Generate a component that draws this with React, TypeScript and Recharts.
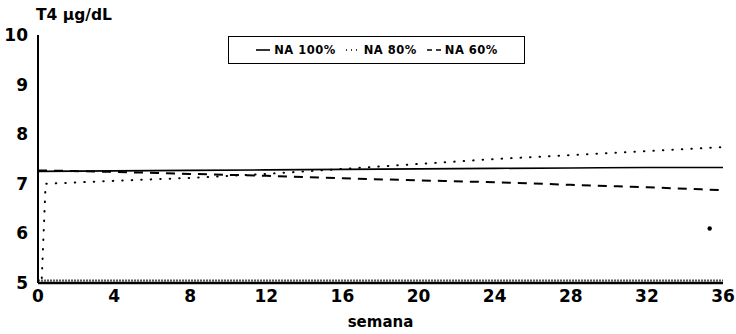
import React from "react";
import {
  ComposedChart,
  Line,
  Scatter,
  XAxis,
  YAxis,
  ReferenceLine,
} from "recharts";

// semanas (weeks)
const weeks = [0, 4, 8, 12, 16, 20, 24, 28, 32, 36];
const xTicks = [0, 4, 8, 12, 16, 20, 24, 28, 32, 36];
const yTicks = [5, 6, 7, 8, 9, 10];

// T4 values per group
const na100 = [7.25, 7.26, 7.27, 7.28, 7.29, 7.3, 7.31, 7.32, 7.33, 7.33];
const na80Weeks = [0.2, 0.4, 4, 8, 12, 16, 20, 24, 28, 32, 36];
const na80 = [5.1, 7.0, 7.06, 7.12, 7.2, 7.3, 7.4, 7.5, 7.58, 7.66, 7.74];
const na60 = [7.27, 7.24, 7.2, 7.16, 7.11, 7.07, 7.03, 6.98, 6.93, 6.87];
const strayWeeks = [35.3];
const strayValues = [6.1];

const FONT = "'DejaVu Sans', Arial, sans-serif";

const solidData = weeks.map((w, i) => ({ w, v: na100[i] }));
const dottedData = na80Weeks.map((w, i) => ({ w, v: na80[i] }));
const dashedData = weeks.map((w, i) => ({ w, v: na60[i] }));
const strayData = strayWeeks.map((w, i) => ({ w, v: strayValues[i] }));

const legendItems = [
  { name: "NA 100%", dash: undefined as string | undefined },
  { name: "NA 80%", dash: "1 4" },
  { name: "NA 60%", dash: "5 4" },
];

const LegendBox = () => (
  <div
    style={{
      position: "absolute",
      left: 228,
      top: 36,
      width: 297,
      height: 28,
      border: "1.5px solid #000",
      boxSizing: "border-box",
      display: "flex",
      alignItems: "center",
      justifyContent: "center",
      gap: 9,
      fontFamily: FONT,
      fontWeight: 700,
      fontSize: 11.5,
      color: "#000",
      background: "#fff",
    }}
  >
    {legendItems.map((it) => (
      <span key={it.name} style={{ display: "flex", alignItems: "center", gap: 3 }}>
        <svg width={16} height={6}>
          <line
            x1={1}
            y1={3}
            x2={15}
            y2={3}
            stroke="#000"
            strokeWidth={1.6}
            strokeDasharray={it.dash}
          />
        </svg>
        <span style={{ letterSpacing: 0.5 }}>{it.name}</span>
      </span>
    ))}
  </div>
);

export default function App() {
  return (
    <div style={{ position: "absolute", left: 0, top: 0, width: 736, height: 334, background: "#fff" }}>
      <ComposedChart
        width={736}
        height={334}
        margin={{ top: 35, right: 13, left: 0, bottom: 0 }}
      >
        <XAxis
          dataKey="w"
          type="number"
          domain={[0, 36]}
          ticks={xTicks}
          allowDataOverflow
          axisLine={{ stroke: "#000", strokeWidth: 2.5 }}
          tickLine={false}
          height={51}
          tick={{ fill: "#000", fontSize: 17, fontWeight: 700, fontFamily: FONT }}
          tickMargin={1}
          label={{
            value: "semana",
            position: "insideBottom",
            offset: 7,
            fill: "#000",
            fontSize: 15,
            fontWeight: 700,
            fontFamily: FONT,
          }}
        />
        <YAxis
          dataKey="v"
          type="number"
          domain={[5, 10]}
          ticks={yTicks}
          width={38}
          axisLine={{ stroke: "#000", strokeWidth: 2 }}
          tickLine={false}
          tickMargin={4}
          tick={{ fill: "#000", fontSize: 17, fontWeight: 700, fontFamily: FONT }}
          label={{
            content: () => (
              <text
                x={36}
                y={20}
                fill="#000"
                fontSize={15.5}
                fontWeight={700}
                fontFamily={FONT}
              >
                T4 μg/dL
              </text>
            ),
          }}
        />
        <ReferenceLine
          y={5.05}
          stroke="#555"
          strokeWidth={2}
          strokeDasharray="2 1"
        />
        <Line
          data={solidData}
          dataKey="v"
          name="NA 100%"
          type="monotone"
          stroke="#000"
          strokeWidth={1.6}
          dot={false}
          isAnimationActive={false}
        />
        <Line
          data={dottedData}
          dataKey="v"
          name="NA 80%"
          type="linear"
          stroke="#000"
          strokeWidth={2}
          strokeLinecap="round"
          strokeDasharray="0.5 9"
          dot={false}
          isAnimationActive={false}
        />
        <Line
          data={dashedData}
          dataKey="v"
          name="NA 60%"
          type="monotone"
          stroke="#000"
          strokeWidth={2}
          strokeDasharray="9 7"
          dot={false}
          isAnimationActive={false}
        />
        <Scatter
          data={strayData}
          dataKey="v"
          fill="#000"
          shape={(p: any) => <circle cx={p.cx} cy={p.cy} r={2.2} fill="#000" />}
          isAnimationActive={false}
        />
      </ComposedChart>
      <LegendBox />
    </div>
  );
}
